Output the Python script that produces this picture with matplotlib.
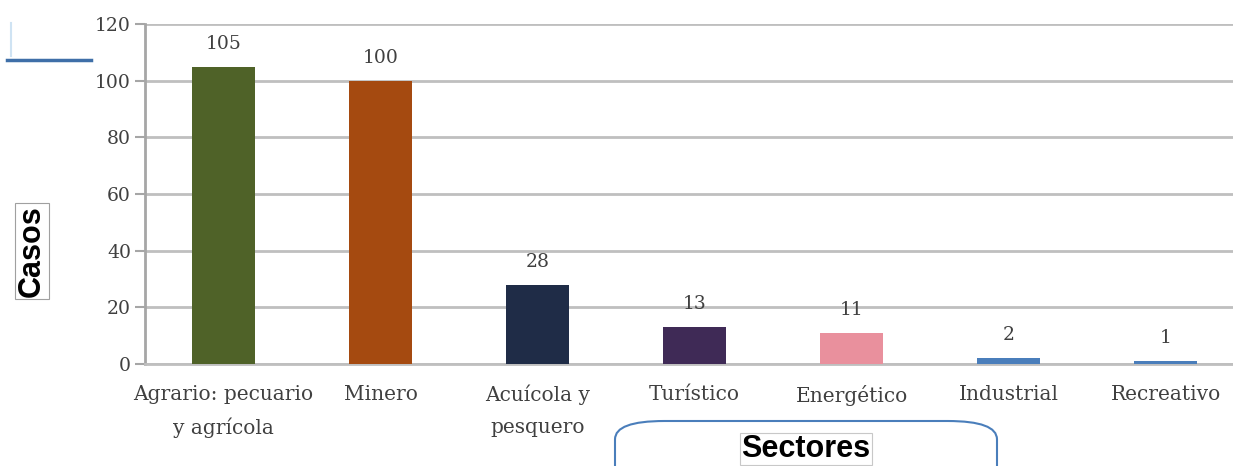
import matplotlib
matplotlib.use('Agg')
from matplotlib import pyplot as plt
from matplotlib.patches import FancyBboxPatch
from matplotlib.lines import Line2D

sectores = ['Agrario: pecuario\ny agrícola', 'Minero', 'Acuícola y\npesquero',
            'Turístico', 'Energético', 'Industrial', 'Recreativo']
casos = [105, 100, 28, 13, 11, 2, 1]
colores = ['#4f6228', '#a54a10', '#1f2c47', '#3f2a56', '#e9909d', '#4a7ebb', '#4a7ebb']
yticks = [0, 20, 40, 60, 80, 100, 120]

fig = plt.figure(figsize=(12.33, 4.66), dpi=100)
ax = fig.add_axes([145 / 1233, 102 / 466, 1099 / 1233, 340 / 466])

pos = list(range(len(sectores)))
bars = ax.bar(pos, casos, width=0.4, color=colores, zorder=3)

for x, v in zip(pos, casos):
    ax.annotate(str(v), (x, v), xytext=(0, 10), textcoords='offset points',
                ha='center', va='bottom', fontsize=13.5, family='DejaVu Serif',
                color='#404040')

ax.set_xlim(-0.5, 6.5)
ax.set_ylim(0, 120)
ax.set_yticks(yticks)
ax.set_yticklabels([str(t) for t in yticks], family='DejaVu Serif', fontsize=13.5,
                   color='#404040')
ax.set_xticks(pos)
ax.set_xticklabels(sectores, family='DejaVu Serif', fontsize=14.5, color='#404040',
                   linespacing=1.85)
ax.tick_params(axis='x', length=0, pad=15)
ax.tick_params(axis='y', length=7, width=1.5, color='#a6a6a6', pad=3)
ax.grid(axis='y', color='#bfbfbf', linewidth=2, zorder=0)
ax.set_axisbelow(True)
for s in ['top', 'right']:
    ax.spines[s].set_visible(False)
ax.spines['left'].set_color('#a6a6a6')
ax.spines['left'].set_linewidth(2)
ax.spines['bottom'].set_color('#bfbfbf')
ax.spines['bottom'].set_linewidth(2)

# Casos label in a thin box
fig.text(32 / 1233, 1 - 251 / 466, 'Casos', rotation=90, ha='center', va='center',
         family='Liberation Sans', fontweight='bold', fontsize=22,
         bbox=dict(facecolor='white', edgecolor='#a0a0a0', linewidth=0.8,
                   boxstyle='square,pad=0.08'))

# Sectores rounded box
box = FancyBboxPatch((615 / 1233, -0.1), 382 / 1233, (466 - 421) / 466 + 0.1,
                     boxstyle='round,pad=0,rounding_size=0.04',
                     transform=fig.transFigure, facecolor='white',
                     edgecolor='#4a7ebb', linewidth=1.5, mutation_aspect=466 / 1233 * 2.6)
fig.patches.append(box)
fig.text(806 / 1233, 1 - 449 / 466, 'Sectores', ha='center', va='center',
         family='Liberation Sans', fontweight='bold', fontsize=22,
         bbox=dict(facecolor='white', edgecolor='#c8c8c8', linewidth=0.8,
                   boxstyle='square,pad=0.04'))

# stray marks top-left
fig.lines.append(Line2D([7 / 1233, 91 / 1233], [1 - 60 / 466, 1 - 60 / 466],
                        transform=fig.transFigure, color='#3f6fa8', linewidth=2.5))
fig.lines.append(Line2D([11 / 1233, 11 / 1233], [1 - 23 / 466, 1 - 56 / 466],
                        transform=fig.transFigure, color='#cfe3f3', linewidth=1.5))

fig.savefig('out.png', dpi=100)
